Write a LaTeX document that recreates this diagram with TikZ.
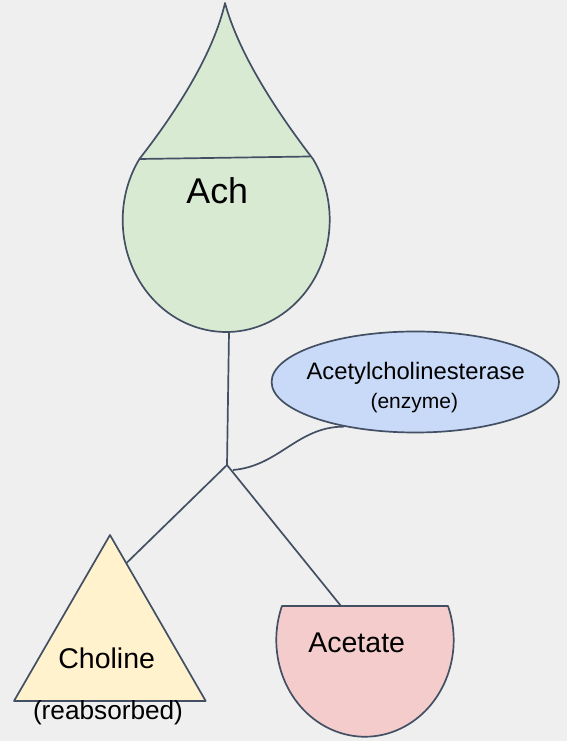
\documentclass[tikz,border=0pt]{standalone}
\usepackage{fontspec}
\setmainfont{Liberation Sans}
\usetikzlibrary{shapes.geometric}
\definecolor{bgray}{RGB}{239,239,239}
\definecolor{edge}{RGB}{67,80,100}
\definecolor{dropgreen}{RGB}{217,234,211}
\definecolor{enzblue}{RGB}{201,218,248}
\definecolor{chyellow}{RGB}{255,242,204}
\definecolor{acred}{RGB}{244,204,204}
\tikzset{outline/.style={draw=edge, line width=1.7pt, line join=round, fill=#1},
         outline/.default={white},
         link/.style={draw=edge, line width=1.7pt},
         lbl/.style={anchor=base, inner sep=0pt, outer sep=0pt, font=\fontsize{#1}{#1}\selectfont},
         lbl/.default={28.5}}

\begin{document}
\begin{tikzpicture}[x=1pt, y=1pt]
  \fill[bgray] (0,0) rectangle (567,741);
  \useasboundingbox (0,0) rectangle (567,741);

  % the drop of Ach
  \draw[outline=dropgreen] (313,582) arc[start angle=33, end angle=-213, x radius=103.5, y radius=112]
    .. controls (180,634) and (214,690) .. (225,738)
    .. controls (238,690) and (273,634) .. (313,582) -- cycle;
  \draw[link] (140,582) -- (310,584.5);
  \node[lbl=35.8] (ach) at (217.3,537.7) {Ach};

  % enzyme
  \node[ellipse, outline=enzblue, minimum width=287.4pt, minimum height=101pt, inner sep=0pt] (enz) at (415.3,359) {};
  \node[lbl=23.8] (enzname) at (415.7,361.7) {Acetylcholinesterase};
  \node[lbl=21] (enznote) at (414.3,332.7) {(enzyme)};

  % products
  \draw[outline=chyellow] (110,206) -- (205.7,40) -- (14,40) -- cycle;
  \node[lbl] (chol) at (106.7,72.7) {Choline};
  \node[lbl=26.2] (cholnote) at (108,21.7) {(reabsorbed)};

  \draw[outline=acred] (448,135) arc[start angle=20.6, end angle=-200.6, x radius=88.7, y radius=96.7] -- cycle;
  \node[lbl] (acet) at (356.7,88.7) {Acetate};

  % connectors
  \coordinate (dropbot) at (229,409);
  \coordinate (split) at (227,276);
  \coordinate (hook) at (233,271);
  \coordinate (choltop) at (126.5,178);
  \coordinate (acettop) at (341,135);
  \draw[link] (dropbot) -- (split);
  \draw[link] (choltop) -- (split) -- (acettop);
  \draw[link] (hook) to[out=5, in=180] (enz.212.5);
\end{tikzpicture}
\end{document}
